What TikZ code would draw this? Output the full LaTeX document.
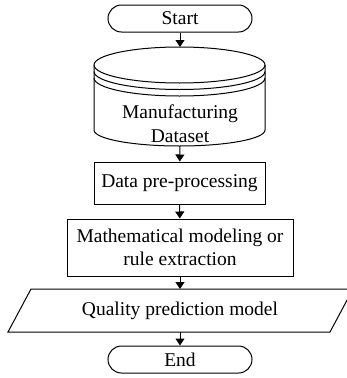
\documentclass[tikz,border=0pt]{standalone}
\usepackage{fontspec}
\setmainfont{Liberation Serif}
\usetikzlibrary{arrows.meta}
\begin{document}
\begin{tikzpicture}[x=1pt,y=-1pt, line width=1pt,
  every node/.style={font=\fontsize{19.5}{23.5}\selectfont, inner sep=0pt, align=center},
  term/.style={draw, rounded corners=13.5pt, minimum width=144pt, minimum height=27pt},
  proc/.style={draw},
  conn/.style={-{Triangle[length=7pt,width=9pt]}}
]
\useasboundingbox (0,0) rectangle (347,378);
% Start
\node[term] (start) at (180,18.5) {Start};
% Cylinder (database)
\coordinate (cyltop) at (180,47);
\coordinate (cylbot) at (180,146);
\draw (94,65) -- (94,130) arc[start angle=180, end angle=360, x radius=85.5pt, y radius=16pt] -- (265,65);
\draw (179.5,65) ellipse [x radius=85.5pt, y radius=18pt];
\draw (94,71.5) arc[start angle=180, end angle=360, x radius=85.5pt, y radius=18pt];
\draw (94,78) arc[start angle=180, end angle=360, x radius=85.5pt, y radius=18pt];
\node (ds) at (180,123.5) {Manufacturing\\Dataset};
% Data pre-processing
\node[proc, minimum width=171pt, minimum height=42pt] (pre) at (179.5,183) {Data pre-processing};
% Mathematical modeling
\node[proc, minimum width=226pt, minimum height=57pt] (math) at (180,247.5) {Mathematical modeling or\\rule extraction};
% Quality prediction model (parallelogram)
\coordinate (qtop) at (180,289);
\coordinate (qbot) at (180,332);
\draw (31,289) -- (353,289) -- (330,332) -- (8,332) -- cycle;
\node (qpm) at (180,310.5) {Quality prediction model};
% End
\node[term] (end) at (180,359.5) {End};
% connectors
\draw[conn] (start) -- (cyltop);
\draw[conn] (cylbot) -- (pre);
\draw[conn] (pre) -- (math);
\draw[conn] (math) -- (qtop);
\draw[conn] (qbot) -- (end);
\end{tikzpicture}
\end{document}
